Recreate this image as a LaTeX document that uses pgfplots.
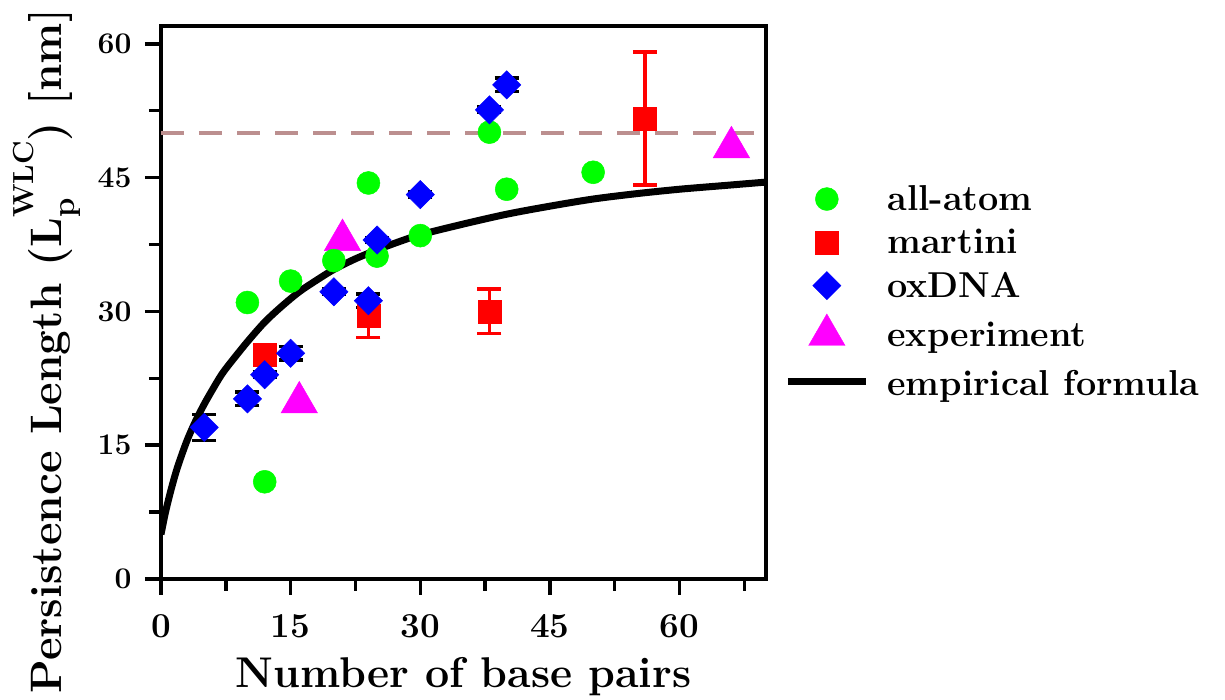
\documentclass[border=0pt]{standalone}
\usepackage{pgfplots}
\pgfplotsset{compat=1.18}
\definecolor{aagreen}{RGB}{0,255,0}
\definecolor{mred}{RGB}{255,0,0}
\definecolor{oxblue}{RGB}{0,0,255}
\definecolor{expmag}{RGB}{255,0,255}
\definecolor{rosyb}{RGB}{188,143,143}
\newcommand\lpwlc{L\rlap{\raisebox{-0.30em}{\fontsize{31}{31}\selectfont p}}\raisebox{0.62em}{\fontsize{29}{29}\selectfont WLC}}
\begin{document}
\begin{tikzpicture}
\begin{axis}[
  scale only axis, width=605pt, height=553pt,
  xmin=0, xmax=70, ymin=0, ymax=62,
  xtick={0,15,30,45,60}, ytick={0,15,30,45,60},
  minor xtick={7.5,22.5,37.5,52.5,67.5}, minor ytick={7.5,22.5,37.5,52.5},
  tick align=outside, tick pos=left,
  major tick length=16pt, minor tick length=12pt,
  every tick/.style={black, line width=3.5pt},
  axis line style={line width=3.5pt},
  /pgf/number format/assume math mode=true,
  xticklabel style={font=\rmfamily\bfseries\fontsize{35}{35}\selectfont, yshift=-16pt},
  yticklabel style={font=\rmfamily\bfseries\fontsize{30}{30}\selectfont, xshift=-10pt},
  xlabel={Number of base pairs},
  xlabel style={font=\rmfamily\bfseries\fontsize{43}{43}\selectfont, at={(axis description cs:0.5,-0.197)}, anchor=base},
  ylabel={Persistence Length (\lpwlc) [nm]},
  ylabel style={font=\rmfamily\bfseries\fontsize{44}{44}\selectfont, at={(axis description cs:-0.165,0.412)}, anchor=base, rotate=0},
  legend style={at={(axis description cs:1.03,0.715)}, anchor=north west, draw=none, fill=none,
    font=\rmfamily\bfseries\fontsize{36}{40}\selectfont, row sep=13pt, inner sep=0pt,
    nodes={inner xsep=14pt}},
  legend cell align=left,
  legend image code/.code={\draw[mark repeat=2,mark phase=2,#1] plot coordinates {(0pt,0pt) (39pt,0pt) (78pt,0pt)};},
]
% experiment
\addplot[only marks, mark=triangle*, mark size=21pt, color=expmag, mark options={line width=0.5pt}, forget plot]
  coordinates {(16,19.8) (21,38.0) (66,48.4)};
% all-atom
\addplot[only marks, mark=*, mark size=11.5pt, color=aagreen, mark options={line width=0.5pt}, forget plot]
  coordinates {(10,31.0) (12,10.9) (15,33.4) (20,35.7) (24,44.4) (25,36.2) (30,38.5) (38,50.1) (40,43.7) (50,45.6)};
% martini
\addplot[only marks, mark=square*, mark size=11.5pt, color=mred, mark options={line width=0.5pt}, forget plot,
  error bars/.cd, y dir=both, y explicit,
  error bar style={line width=3.5pt, mred},
  error mark options={rotate=90, mark size=12pt, line width=3.5pt, mred}]
  table[x=x, y=y, y error=e] {
x y e
12 25.1 1.0
24 29.5 2.4
38 30.0 2.5
56 51.65 7.45
};
% oxDNA
\addplot[only marks, mark=square*, mark size=10pt, color=oxblue, mark options={rotate=45, line width=0.5pt}, forget plot,
  error bars/.cd, y dir=both, y explicit,
  error bar style={line width=3.5pt, black},
  error mark options={rotate=90, mark size=12pt, line width=3.5pt, black}]
  table[x=x, y=y, y error=e] {
x y e
5 17.0 1.45
10 20.2 0.75
12 22.9 0.3
15 25.3 0.75
20 32.2 0.3
24 31.2 0.75
25 38.0 0.3
30 43.1 0.3
38 52.6 0.3
40 55.4 0.75
};
% empirical formula
\addplot[black, line width=7pt, smooth, forget plot] coordinates {
(0,5.0) (0.5,7.4) (1,9.4) (1.5,11.2) (2,12.8) (3,15.5) (4,17.7) (5,19.6) (6,21.3) (7,22.9) (8,24.2)
(10,26.6) (12,28.8) (14,30.6) (16,32.2) (18,33.5) (20,34.7) (22.5,35.9) (25,36.9) (27.5,37.8)
(30,38.6) (35,39.8) (40,40.9) (45,41.8) (50,42.6) (55,43.2) (60,43.7) (65,44.1) (70,44.5)};
% reference line
\addplot[rosyb, line width=4pt, dash pattern=on 23pt off 15pt, forget plot] coordinates {(0,50) (70,50)};
% legend
\addlegendimage{only marks, mark=*, mark size=11.5pt, color=aagreen}
\addlegendentry{\hspace*{4pt}all-atom}
\addlegendimage{only marks, mark=square*, mark size=11.5pt, color=mred}
\addlegendentry{\hspace*{4pt}martini}
\addlegendimage{only marks, mark=square*, mark size=10pt, color=oxblue, mark options={rotate=45}}
\addlegendentry{\hspace*{4pt}oxDNA}
\addlegendimage{only marks, mark=triangle*, mark size=21pt, color=expmag}
\addlegendentry{\hspace*{4pt}experiment}
\addlegendimage{black, line width=7pt}
\addlegendentry{\hspace*{4pt}\rule{0pt}{0.86em}empirical formula}
\end{axis}
\pgfresetboundingbox
\path[use as bounding box] ([shift={(-161pt,-121pt)}]current axis.south west) rectangle ([shift={(1064pt,579pt)}]current axis.south west);
\end{tikzpicture}
\end{document}
